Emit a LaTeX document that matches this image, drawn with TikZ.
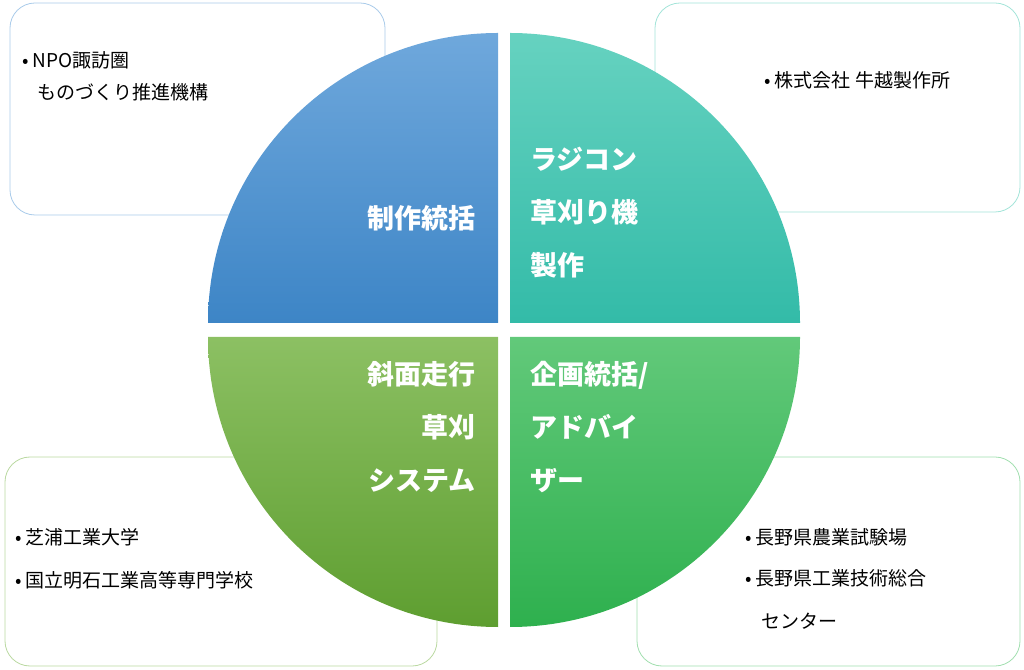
\documentclass[tikz,border=0pt]{standalone}
\usepackage{fontspec}
\setmainfont{Noto Sans CJK JP}
\usetikzlibrary{positioning}
\definecolor{tlTop}{HTML}{6FA8DC}\definecolor{tlBot}{HTML}{3D85C6}
\definecolor{trTop}{HTML}{66D2C0}\definecolor{trBot}{HTML}{33BBA8}
\definecolor{blTop}{HTML}{8CC063}\definecolor{blBot}{HTML}{5E9E30}
\definecolor{brTop}{HTML}{62C97A}\definecolor{brBot}{HTML}{2EB04E}
\tikzset{
  infobox/.style={rounded corners=25pt, line width=0.8pt, fill=white},
  quadlabel/.style={text=white, font=\fontsize{27}{53}\selectfont\bfseries, inner sep=0pt},
  itemtext/.style={font=\fontsize{19}{23}\selectfont, inner sep=0pt, anchor=west}
}
\begin{document}
\begin{tikzpicture}[x=1pt,y=1pt]
  \useasboundingbox (0,0) rectangle (1024,669);
  % boxes behind
  \draw[infobox, draw=tlTop!60] (10,454) rectangle (385,666);
  \draw[infobox, draw=trTop!60] (655,457) rectangle (1020,666);
  \draw[infobox, draw=blTop!60] (5,3) rectangle (437,212);
  \draw[infobox, draw=brTop!60] (637,3) rectangle (1020,212);

  % quadrants
  \shade[top color=tlTop, bottom color=tlBot] (498,346) -- (208,346) arc[start angle=180, end angle=90, radius=290] -- cycle;
  \shade[top color=trTop, bottom color=trBot] (510,346) -- (510,636) arc[start angle=90, end angle=0, radius=290] -- cycle;
  \shade[top color=blTop, bottom color=blBot] (498,332) -- (498,42) arc[start angle=270, end angle=180, radius=290] -- cycle;
  \shade[top color=brTop, bottom color=brBot] (510,332) -- (800,332) arc[start angle=0, end angle=-90, radius=290] -- cycle;

  % quadrant labels
  \node[quadlabel, anchor=east] (make) at (476,451) {制作統括};
  \node[quadlabel, anchor=north west, align=left] (radio) at (530,522) {ラジコン\\草刈り機\\製作};
  \node[quadlabel, anchor=north east, align=right] (slope) at (476,308) {斜面走行\\草刈\\システム};
  \node[quadlabel, anchor=north west, align=left] (plan) at (530,308) {企画統括/\\アドバイ\\ザー};

  % box texts
  \node[itemtext] (npo) at (22,609) {• NPO諏訪圏};
  \node[itemtext] (npob) at (37,577) {ものづくり推進機構};
  \node[itemtext] (ushi) at (764,589) {• 株式会社 牛越製作所};
  \node[itemtext] (shiba) at (15,132) {• 芝浦工業大学};
  \node[itemtext] (akashi) at (15,89) {• 国立明石工業高等専門学校};
  \node[itemtext] (nogyo) at (745,132) {• 長野県農業試験場};
  \node[itemtext] (kogyo) at (745,91) {• 長野県工業技術総合};
  \node[itemtext] (center) at (761,48) {センター};
\end{tikzpicture}
\end{document}
